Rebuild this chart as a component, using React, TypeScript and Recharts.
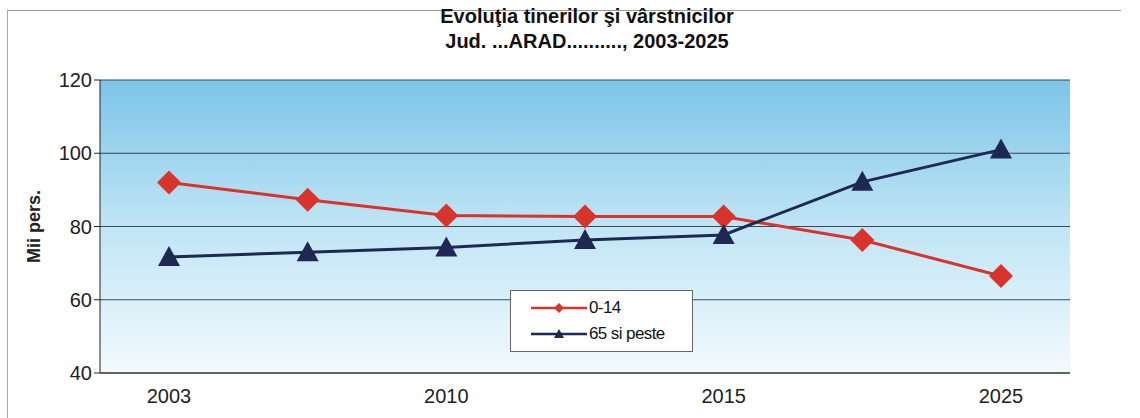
import { LineChart, Line, XAxis, YAxis, CartesianGrid } from 'recharts';

const years = ['2003', '2007', '2010', '2012', '2015', '2020', '2025'];
const tickLabels = ['2003', '', '2010', '', '2015', '', '2025'];
const young = [92, 87.3, 83, 82.7, 82.7, 76.3, 66.5];
const elderly = [71.7, 73, 74.3, 76.3, 77.7, 92.2, 101];

const data = years.map((y, i) => ({ year: y, young: young[i], elderly: elderly[i] }));

const RED = '#d9342b';
const NAVY = '#1f2853';
const FONT = '"Liberation Sans", Arial, sans-serif';

const Diamond = (props: any) => {
  const { cx, cy, index } = props;
  if (cx == null || cy == null) return null;
  const r = 12;
  return (
    <path
      key={`d-${index}`}
      d={`M${cx},${cy - r} L${cx + r},${cy} L${cx},${cy + r} L${cx - r},${cy} Z`}
      fill={RED}
    />
  );
};

const Triangle = (props: any) => {
  const { cx, cy, index } = props;
  if (cx == null || cy == null) return null;
  return (
    <path
      key={`t-${index}`}
      d={`M${cx},${cy - 11} L${cx + 11},${cy + 9} L${cx - 11},${cy + 9} Z`}
      fill={NAVY}
    />
  );
};

const legendItems = [
  { label: '0-14', color: RED, shape: 'd' },
  { label: '65 si peste', color: NAVY, shape: 't' },
];

const LegendBox = () => (
  <div
    style={{
      position: 'absolute',
      left: 510,
      top: 290,
      width: 183,
      height: 62,
      background: '#fff',
      border: '1px solid #666',
      boxSizing: 'border-box',
      fontFamily: FONT,
      fontSize: 17,
      letterSpacing: -0.6,
      color: '#111',
    }}
  >
    {legendItems.map((e, i) => (
      <div key={i} style={{ display: 'flex', alignItems: 'center', height: 24, marginTop: i === 0 ? 5 : 2 }}>
        <svg width={60} height={14} style={{ marginLeft: 18 }}>
          <line x1={2} y1={7} x2={58} y2={7} stroke={e.color} strokeWidth={2.5} />
          {e.shape === 'd' ? (
            <path d="M30,2 L35,7 L30,12 L25,7 Z" fill={e.color} />
          ) : (
            <path d="M30,2 L35,11 L25,11 Z" fill={e.color} />
          )}
        </svg>
        <span style={{ marginLeft: 0 }}>{e.label}</span>
      </div>
    ))}
  </div>
);

export default function App() {
  return (
    <div style={{ position: 'absolute', left: 0, top: 0, width: 1140, height: 418, background: '#fff', overflow: 'hidden' }}>
      <div
        style={{
          position: 'absolute',
          left: 7,
          top: 10,
          width: 1113,
          height: 410,
          borderTop: '1px solid #999',
          borderLeft: '1px solid #aaa',
        }}
      />
      <div
        style={{
          position: 'absolute',
          left: 337,
          top: 4,
          width: 500,
          textAlign: 'center',
          fontFamily: FONT,
          fontWeight: 'bold',
          fontSize: 20,
          lineHeight: '25px',
          color: '#111',
        }}
      >
        <div>Evoluţia tinerilor şi vârstnicilor</div>
        <div>Jud. ...ARAD.........., 2003-2025</div>
      </div>
      <div style={{ position: 'absolute', left: 0, top: 0 }}>
        <LineChart
          width={1140}
          height={418}
          data={data}
          margin={{ top: 80, right: 70, bottom: 15, left: 40 }}
          style={{ fontFamily: FONT }}
        >
          <defs>
            <linearGradient id="bg" x1="0" y1="0" x2="0" y2="1">
              <stop offset="0%" stopColor="#7cc4e8" />
              <stop offset="50%" stopColor="#c0e5f5" />
              <stop offset="100%" stopColor="#f3fafd" />
            </linearGradient>
          </defs>
          <CartesianGrid vertical={false} stroke="#3a4a50" strokeWidth={1} fill="url(#bg)" fillOpacity={1} />
          <XAxis
            dataKey="year"
            tickFormatter={(v: string) => tickLabels[years.indexOf(v)]}
            tick={{ fontSize: 20, fill: '#222' }}
            tickLine={false}
            axisLine={{ stroke: '#222' }}
            height={30}
            tickMargin={10}
            interval={0}
            padding={{ left: 69, right: 69 }}
          />
          <YAxis
            domain={[40, 120]}
            ticks={[40, 60, 80, 100, 120]}
            tick={{ fontSize: 20, fill: '#222' }}
            tickLine={{ stroke: '#222' }}
            tickSize={6}
            tickMargin={2}
            axisLine={{ stroke: '#222' }}
            width={60}
            label={({ viewBox }: any) => (
              <text
                x={viewBox.x - 5}
                y={viewBox.y + viewBox.height / 2}
                transform={`rotate(-90 ${viewBox.x - 5} ${viewBox.y + viewBox.height / 2})`}
                textAnchor="middle"
                dominantBaseline="middle"
                fontSize={18}
                fontWeight="bold"
                fill="#222"
              >
                Mii pers.
              </text>
            )}
          />
          <Line
            dataKey="young"
            name="0-14"
            stroke={RED}
            strokeWidth={3}
            dot={Diamond}
            activeDot={false}
            isAnimationActive={false}
          />
          <Line
            dataKey="elderly"
            name="65 si peste"
            stroke={NAVY}
            strokeWidth={3}
            dot={Triangle}
            activeDot={false}
            isAnimationActive={false}
          />
        </LineChart>
      </div>
      <LegendBox />
    </div>
  );
}
